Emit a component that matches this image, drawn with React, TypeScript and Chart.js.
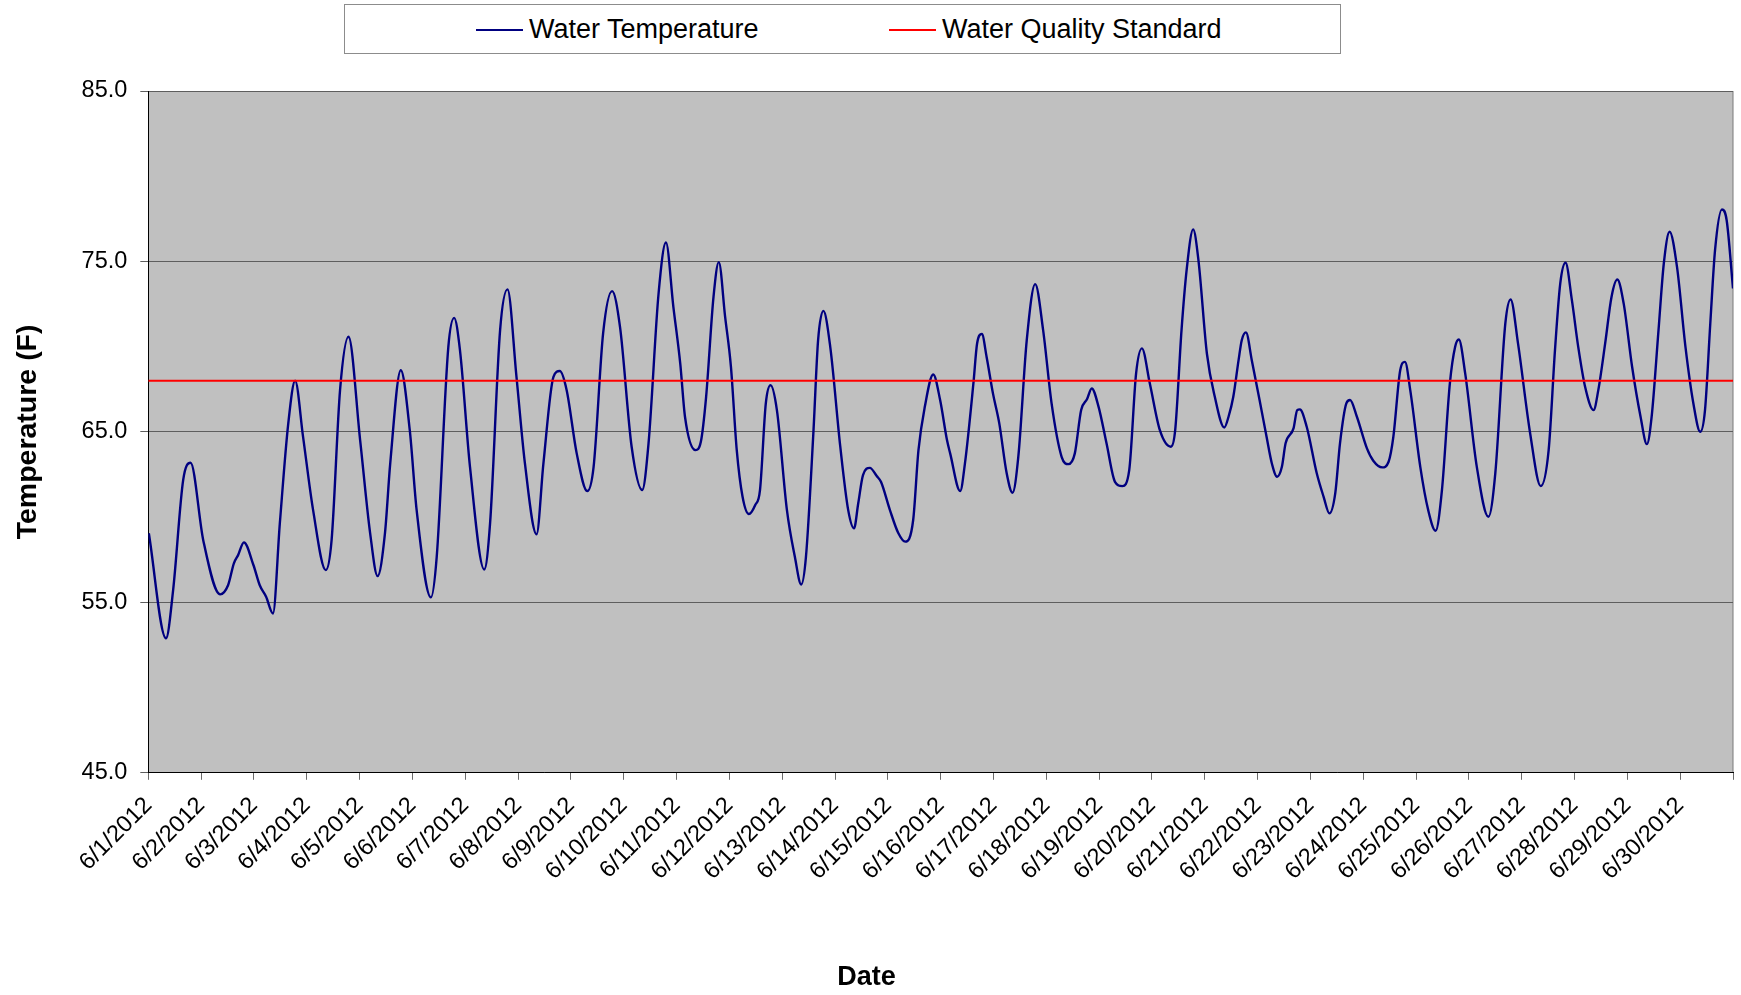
import React, { useEffect, useRef } from 'react';
import { Chart, registerables } from 'chart.js';

Chart.register(...registerables);

const FONT = "'Liberation Sans', Arial, sans-serif";

const dateLabels = [
  '6/1/2012', '6/2/2012', '6/3/2012', '6/4/2012', '6/5/2012', '6/6/2012',
  '6/7/2012', '6/8/2012', '6/9/2012', '6/10/2012', '6/11/2012', '6/12/2012',
  '6/13/2012', '6/14/2012', '6/15/2012', '6/16/2012', '6/17/2012', '6/18/2012',
  '6/19/2012', '6/20/2012', '6/21/2012', '6/22/2012', '6/23/2012', '6/24/2012',
  '6/25/2012', '6/26/2012', '6/27/2012', '6/28/2012', '6/29/2012', '6/30/2012',
];

const seriesNames = ['Water Temperature', 'Water Quality Standard'];
const seriesColors = ['#000080', '#ff0000'];

// time in days since 6/1/2012 00:00
const tempDays = [
  0.01, 0.335, 0.47, 0.66, 0.8, 1.04, 1.36, 1.51, 1.62, 1.7, 1.81, 1.99, 2.11, 2.23, 2.36,
  2.49, 2.65, 2.78, 2.93, 3.12, 3.36, 3.47, 3.63, 3.79, 4.01, 4.2, 4.34, 4.48, 4.58, 4.78,
  4.95, 5.08, 5.35, 5.46, 5.68, 5.79, 5.9, 6.09, 6.36, 6.47, 6.66, 6.8, 6.97, 7.13, 7.35,
  7.48, 7.67, 7.79, 7.92, 8.11, 8.31, 8.43, 8.61, 8.78, 8.93, 9.15, 9.35, 9.47, 9.66, 9.8,
  9.94, 10.07, 10.16, 10.36, 10.46, 10.56, 10.7, 10.8, 10.92, 11.03, 11.14, 11.25, 11.37, 11.49, 11.58,
  11.69, 11.78, 11.9, 12.09, 12.24, 12.36, 12.45, 12.59, 12.68, 12.78, 12.91, 13.1, 13.25, 13.36, 13.44,
  13.53, 13.66, 13.79, 13.87, 14.04, 14.2, 14.33, 14.48, 14.58, 14.7, 14.86, 14.99, 15.12, 15.18, 15.37,
  15.46, 15.62, 15.69, 15.78, 15.87, 15.99, 16.11, 16.25, 16.36, 16.47, 16.63, 16.79, 16.94, 17.1, 17.29,
  17.42, 17.54, 17.66, 17.77, 17.86, 17.99, 18.14, 18.3, 18.44, 18.57, 18.7, 18.81, 18.96, 19.15, 19.36,
  19.44, 19.56, 19.66, 19.78, 19.88, 20.04, 20.19, 20.37, 20.45, 20.54, 20.64, 20.7, 20.78, 20.89, 21.05,
  21.17, 21.27, 21.37, 21.46, 21.53, 21.68, 21.75, 21.8, 21.93, 22.12, 22.25, 22.36, 22.47, 22.56, 22.68,
  22.75, 22.88, 23.07, 23.19, 23.36, 23.48, 23.57, 23.7, 23.79, 23.89, 24.08, 24.23, 24.37, 24.49, 24.64,
  24.74, 24.81, 24.93, 25.15, 25.37, 25.5, 25.69, 25.79, 25.93, 26.16, 26.36, 26.51, 26.63, 26.73, 26.83,
  26.95, 27.07, 27.2, 27.36, 27.45, 27.58, 27.7, 27.81, 27.93, 28.09, 28.25, 28.37, 28.46, 28.59, 28.69,
  28.8, 28.94, 29.1, 29.25, 29.38, 29.47, 29.57, 29.66, 29.79, 29.88, 30.0,
];

const tempValues = [
  59.05, 52.89, 55.72, 62.17, 63.19, 58.65, 55.47, 56.0, 57.29, 57.77, 58.52, 57.19, 56.0, 55.33, 54.35,
  59.63, 65.5, 68.0, 64.71, 60.41, 56.89, 58.65, 67.45, 70.58, 64.52, 59.05, 56.54, 59.05, 63.15, 68.62,
  65.1, 60.41, 55.29, 57.67, 69.99, 71.69, 69.8, 62.95, 56.93, 59.63, 70.97, 73.36, 68.23, 63.15, 58.99,
  63.15, 68.23, 68.57, 67.45, 63.74, 61.53, 62.95, 70.78, 73.26, 71.16, 64.13, 61.59, 64.33, 73.12, 76.11,
  72.34, 69.02, 65.89, 63.93, 64.42, 67.06, 72.92, 74.96, 71.75, 68.82, 63.93, 61.19, 60.18, 60.71, 61.59,
  66.67, 67.74, 66.28, 60.41, 57.67, 56.05, 57.67, 64.91, 70.38, 72.1, 69.99, 64.13, 60.41, 59.34, 60.81,
  62.47, 62.89, 62.41, 62.07, 60.41, 59.05, 58.56, 59.83, 63.93, 66.47, 68.37, 66.87, 64.52, 63.74, 61.53,
  63.15, 67.84, 70.19, 70.74, 69.4, 67.26, 65.5, 62.57, 61.43, 63.54, 70.38, 73.67, 70.97, 66.67, 63.54,
  63.11, 63.74, 66.28, 66.91, 67.55, 66.47, 64.33, 62.07, 61.82, 62.76, 68.43, 69.9, 67.84, 65.1, 64.13,
  65.1, 70.97, 74.59, 76.88, 75.08, 69.6, 67.06, 65.26, 65.89, 67.06, 69.21, 70.38, 70.84, 69.21, 66.67,
  64.71, 63.15, 62.37, 62.95, 64.33, 65.21, 66.28, 66.32, 65.3, 62.57, 61.19, 60.22, 61.39, 64.33, 66.67,
  66.87, 65.89, 64.03, 63.31, 62.92, 63.25, 64.71, 68.62, 69.11, 67.45, 62.95, 60.41, 59.2, 61.59, 67.84,
  69.99, 70.42, 68.43, 62.95, 60.02, 62.57, 71.36, 72.77, 70.19, 64.91, 61.82, 63.93, 69.8, 73.71, 74.92,
  72.73, 69.99, 67.65, 66.28, 67.45, 70.19, 72.92, 73.94, 72.54, 68.82, 65.89, 64.28, 65.89, 70.97, 74.88,
  76.74, 74.68, 69.99, 66.67, 65.01, 66.28, 71.36, 75.66, 78.05, 77.42, 73.42,
];

const standardDays = [0, 30];
const standardValues = [68, 68];

const yMin = 45;
const yMax = 85;
const yStep = 10;

export default function App() {
  const canvasRef = useRef<HTMLCanvasElement | null>(null);

  useEffect(() => {
    const canvas = canvasRef.current;
    if (!canvas) return;

    const plotBg = {
      id: 'plotBg',
      beforeDraw(chart: any) {
        const { ctx, chartArea: a } = chart;
        ctx.save();
        ctx.fillStyle = '#c0c0c0';
        ctx.fillRect(a.left, a.top, a.right - a.left, a.bottom - a.top);
        ctx.strokeStyle = '#7a7a7a';
        ctx.lineWidth = 1;
        ctx.beginPath();
        ctx.moveTo(a.right, a.top);
        ctx.lineTo(a.right, a.bottom);
        ctx.stroke();
        ctx.restore();
      },
    };

    const chart = new Chart(canvas, {
      type: 'line',
      data: {
        datasets: [
          {
            label: seriesNames[0],
            data: tempDays.map((d, i) => ({ x: d, y: tempValues[i] })),
            borderColor: seriesColors[0],
            backgroundColor: seriesColors[0],
            borderWidth: 2.4,
            pointRadius: 0,
            tension: 0.4,
            cubicInterpolationMode: 'monotone',
            fill: false,
            order: 1,
          },
          {
            label: seriesNames[1],
            data: standardDays.map((d, i) => ({ x: d, y: standardValues[i] })),
            borderColor: seriesColors[1],
            backgroundColor: seriesColors[1],
            borderWidth: 2,
            pointRadius: 0,
            fill: false,
            order: 0,
          },
        ],
      },
      options: {
        animation: false,
        responsive: false,
        devicePixelRatio: 1,
        layout: { padding: { top: 91, right: 8, bottom: 0, left: 0 } },
        plugins: {
          legend: { display: false },
          tooltip: { enabled: false },
          title: {
            display: true,
            text: 'Date',
            position: 'bottom',
            color: '#000',
            font: { family: FONT, size: 27, weight: 'bold' },
            padding: { top: 0, bottom: 1 },
          },
        },
        scales: {
          x: {
            type: 'linear',
            min: 0,
            max: 30,
            afterFit: (scale: any) => {
              scale.height = 188.8;
              scale.paddingRight = 0;
            },
            grid: {
              display: true,
              drawOnChartArea: false,
              drawTicks: true,
              tickLength: 7,
              color: '#6a6a6a',
            },
            border: { display: true, color: '#000', width: 1 },
            ticks: {
              stepSize: 1,
              autoSkip: false,
              maxRotation: 45,
              minRotation: 45,
              padding: 12,
              color: '#000',
              font: { family: FONT, size: 23.5 },
              callback: (v: any) => (dateLabels[Number(v)] !== undefined ? dateLabels[Number(v)] : ''),
            },
          },
          y: {
            type: 'linear',
            min: yMin,
            max: yMax,
            afterFit: (scale: any) => {
              scale.width = 148.3;
            },
            grid: {
              display: true,
              drawOnChartArea: true,
              drawTicks: true,
              tickLength: 8,
              color: '#5e5e5e',
              lineWidth: 1,
            },
            border: { display: true, color: '#000', width: 1 },
            ticks: {
              stepSize: yStep,
              padding: 13,
              color: '#000',
              font: { family: FONT, size: 23.5 },
              callback: (v: any) => Number(v).toFixed(1),
            },
            title: {
              display: true,
              text: 'Temperature (F)',
              color: '#000',
              font: { family: FONT, size: 28.5, weight: 'bold' },
              padding: { top: 11, bottom: 0 },
            },
          },
        },
      },
      plugins: [plotBg],
    } as any);

    return () => {
      chart.destroy();
    };
  }, []);

  const legendItems = [
    { name: seriesNames[0], color: seriesColors[0], sampleLeft: 131, textLeft: 184 },
    { name: seriesNames[1], color: seriesColors[1], sampleLeft: 544, textLeft: 597 },
  ];

  return (
    <div
      style={{
        position: 'absolute',
        left: 0,
        top: 0,
        width: 1741,
        height: 995,
        background: '#ffffff',
        overflow: 'hidden',
      }}
    >
      <canvas ref={canvasRef} width={1741} height={995} style={{ width: 1741, height: 995, display: 'block' }} />
      <div
        style={{
          position: 'absolute',
          left: 344,
          top: 4,
          width: 997,
          height: 50,
          border: '1px solid #8c8c8c',
          boxSizing: 'border-box',
          background: '#fff',
          fontFamily: FONT,
          fontSize: 27,
          color: '#000',
        }}
      >
        {legendItems.map((it) => (
          <React.Fragment key={it.name}>
            <div
              style={{
                position: 'absolute',
                left: it.sampleLeft,
                top: 24,
                width: 47,
                height: 2,
                background: it.color,
              }}
            />
            <div
              style={{
                position: 'absolute',
                left: it.textLeft,
                top: 0,
                height: 48,
                lineHeight: '48px',
                whiteSpace: 'nowrap',
              }}
            >
              {it.name}
            </div>
          </React.Fragment>
        ))}
      </div>
    </div>
  );
}
